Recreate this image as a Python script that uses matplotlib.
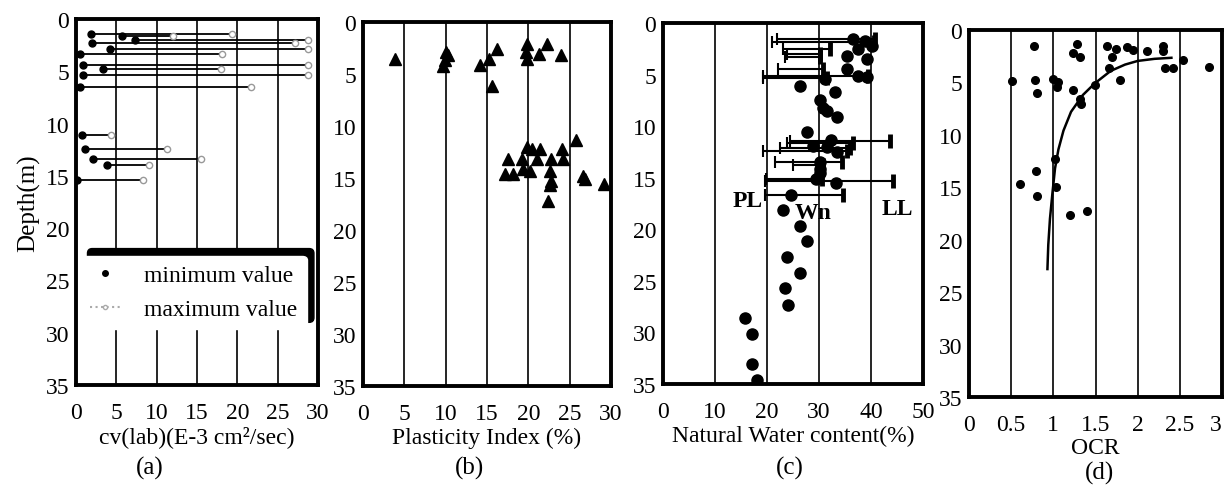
import numpy as np
import matplotlib
matplotlib.use("Agg")
import matplotlib.pyplot as plt
from matplotlib.lines import Line2D

plt.rcParams['font.family'] = ['Liberation Serif', 'DejaVu Serif']
plt.rcParams['font.size'] = 17

# (a) consolidation coefficient, min / max per depth
cv_depth = [1.4, 1.6, 2.0, 2.3, 2.9, 3.3, 4.4, 4.8, 5.4, 6.5, 11.1, 12.4, 13.4, 14.0, 15.4]
cv_min = [1.9, 5.7, 7.3, 2.0, 4.2, 0.5, 0.9, 3.3, 0.9, 0.5, 0.7, 1.1, 2.1, 3.8, 0.1]
cv_max = [19.3, 12.0, 28.8, 27.2, 28.8, 18.1, 28.8, 18.0, 28.8, 21.7, 4.4, 11.3, 15.5, 9.1, 8.3]

# (b) plasticity index
pi_val = [3.9, 10.1, 9.9, 9.7, 10.3, 14.1, 15.2, 16.2, 15.6, 19.8, 19.7, 19.8, 22.2, 21.3,
          24.0, 25.8, 19.8, 20.4, 21.4, 24.1, 17.6, 19.2, 21.1, 22.8, 24.2, 19.4, 20.2,
          17.2, 18.2, 22.6, 22.8, 22.6, 26.6, 26.8, 29.1, 22.4]
pi_depth = [3.6, 2.9, 3.7, 4.2, 3.2, 4.1, 3.6, 2.6, 6.2, 2.1, 2.9, 3.6, 2.1, 3.1,
            3.2, 11.3, 12.0, 12.2, 12.2, 12.2, 13.2, 13.2, 13.2, 13.2, 13.2, 14.1, 14.3,
            14.6, 14.6, 14.3, 15.3, 15.7, 14.8, 15.1, 15.6, 17.2]

# (c) natural water content and Atterberg limits
wn_val = [36.6, 38.8, 40.1, 37.5, 35.3, 39.2, 35.3, 37.5, 39.2, 31.2, 26.3, 33.1, 30.2,
          30.8, 31.5, 33.4, 27.6, 32.4, 28.9, 31.5, 33.4, 30.2, 30.2, 30.2, 29.5, 33.3,
          24.7, 23.1, 26.3, 27.6, 23.8, 26.3, 23.5, 24.1, 15.8, 17.1, 17.1, 18.1]
wn_depth = [1.55, 1.7, 2.2, 2.5, 3.2, 3.5, 4.5, 5.1, 5.2, 5.4, 6.1, 6.7, 7.5,
            8.2, 8.5, 9.1, 10.6, 11.3, 11.9, 12.0, 12.5, 13.5, 14.2, 14.5, 15.1, 15.5,
            16.7, 18.1, 19.7, 21.1, 22.7, 24.2, 25.7, 27.3, 28.6, 30.2, 33.1, 34.6]
lim_depth = [1.55, 1.8, 2.5, 3.0, 3.3, 4.5, 5.1, 5.3, 11.4, 11.6, 12.1, 12.4, 13.5, 13.8, 15.1, 15.3, 16.7]
pl_val = [21.9, 20.9, 23.1, 23.8, 23.5, 22.1, 19.2, 19.2, 24.4, 23.8, 22.5, 19.2, 21.5, 25.0, 19.9, 19.6, 19.6]
ll_val = [40.8, 40.6, 32.1, 30.2, 30.2, 30.8, 39.4, 31.5, 43.7, 36.5, 36.0, 35.3, 34.4, 30.8, 30.5, 44.2, 34.7]

# (d) over-consolidation ratio
ocr_val = [0.77, 0.51, 0.78, 0.81, 1.0, 1.06, 1.04, 1.23, 1.28, 1.23, 1.32, 1.32, 1.33, 1.49,
           1.64, 1.70, 1.66, 1.74, 1.79, 1.87, 1.95, 2.11, 2.30, 2.30, 2.32, 2.42, 2.54, 2.85,
           1.02, 0.79, 0.61, 0.81, 1.03, 1.20, 1.40]
ocr_depth = [1.55, 4.9, 4.8, 6.0, 4.7, 5.0, 5.4, 5.7, 1.3, 2.2, 2.6, 6.6, 7.1, 5.2,
             1.5, 2.6, 3.6, 1.8, 4.8, 1.65, 1.9, 2.0, 1.5, 2.0, 3.6, 3.6, 2.9, 3.5,
             12.3, 13.4, 14.7, 15.8, 15.0, 17.6, 17.3]
fit_ocr = [0.93, 0.94, 0.96, 0.99, 1.02, 1.06, 1.12, 1.21, 1.35, 1.49, 1.68, 1.85, 2.0, 2.2, 2.4]
fit_depth = [22.8, 20.5, 18.0, 15.5, 13.2, 11.4, 9.6, 7.8, 6.2, 5.1, 3.9, 3.3, 2.95, 2.75, 2.65]

W, H = 1229, 489
fig = plt.figure(figsize=(W / 100, H / 100), dpi=100)


def make_ax(l, r, t, b, xmax, xstep):
    ax = fig.add_axes([l / W, 1 - b / H, (r - l) / W, (b - t) / H])
    ax.set_xlim(0, xmax)
    ax.set_ylim(35, 0)
    ax.set_xticks(np.arange(0, xmax + xstep / 2, xstep))
    ax.set_yticks(np.arange(0, 36, 5))
    ax.grid(axis='x', color='black', linewidth=1.2)
    ax.set_axisbelow(True)
    for s in ax.spines.values():
        s.set_linewidth(2.8)
    ax.tick_params(axis='x', length=0, pad=12)
    ax.tick_params(axis='y', length=0, pad=5)
    return ax


# (a)
ax1 = make_ax(76, 318, 20, 386, 30, 5)
for d, lo, hi in zip(cv_depth, cv_min, cv_max):
    ax1.plot([lo, hi], [d, d], color='black', linewidth=1.3, zorder=2)
ax1.plot(cv_max, cv_depth, 'o', mfc='white', mec='#999999', ms=4.5, zorder=3)
ax1.plot(cv_min, cv_depth, 'o', color='black', ms=5, zorder=4)
ax1.set_xlabel('cv(lab)(E-3 cm\u00b2/sec)', labelpad=2)
ax1.set_ylabel('Depth(m)', fontsize=18, labelpad=4)
handles = [Line2D([], [], marker='o', color='black', linestyle='none', ms=4),
           Line2D([], [], marker='o', mfc='white', mec='#aaaaaa', color='#aaaaaa',
                  linestyle=':', ms=3)]
leg = ax1.legend(handles, ['minimum value', 'maximum value'], loc='lower left',
                 bbox_to_anchor=(-0.03, 0.12), fontsize=17, frameon=True, fancybox=True,
                 shadow={'ox': 5, 'oy': 5, 'color': 'black', 'alpha': 1.0},
                 handlelength=1.3, handletextpad=1.0, borderpad=0.4, labelspacing=0.5)
leg.get_frame().set_edgecolor('white')
leg.get_frame().set_alpha(1.0)

# (b)
ax2 = make_ax(363, 611, 23, 387, 30, 5)
ax2.plot(pi_val, pi_depth, '^', color='black', ms=9)
ax2.set_xlabel('Plasticity Index (%)', labelpad=2)

# (c)
ax3 = make_ax(663, 923, 24, 385, 50, 10)
ax3.hlines(lim_depth, pl_val, ll_val, color='black', linewidth=1.5, zorder=2)
ax3.plot(pl_val, lim_depth, '|', color='black', ms=9, mew=1.5, zorder=2)
ax3.plot(ll_val, lim_depth, '|', color='black', ms=10, mew=3.5, zorder=2)
ax3.plot(wn_val, wn_depth, 'o', color='black', ms=8, zorder=3)
ax3.text(19.2, 17.2, 'PL', ha='right', va='center', fontsize=17, fontweight='bold')
ax3.text(28.9, 18.4, 'Wn', ha='center', va='center', fontsize=17, fontweight='bold')
ax3.text(45, 18.0, 'LL', ha='center', va='center', fontsize=17, fontweight='bold')
ax3.set_xlabel('Natural Water content(%)', labelpad=2)

# (d)
ax4 = make_ax(969, 1222, 31, 398, 3, 0.5)
ax4.set_xticklabels(['0', '0.5', '1', '1.5', '2', '2.5', '3'])
ax4.get_xticklabels()[-1].set_ha('right')
ax4.plot(fit_ocr, fit_depth, color='black', linewidth=1.8)
ax4.plot(ocr_val, ocr_depth, 'o', color='black', ms=5.5)
ax4.set_xlabel('OCR', labelpad=2)

for x, y, s in [(150, 468, '(a)'), (470, 468, '(b)'), (790, 468, '(c)'), (1100, 473, '(d)')]:
    fig.text(x / W, 1 - y / H, s, ha='center', va='center', fontsize=18)

fig.savefig('out.png', dpi=100)
